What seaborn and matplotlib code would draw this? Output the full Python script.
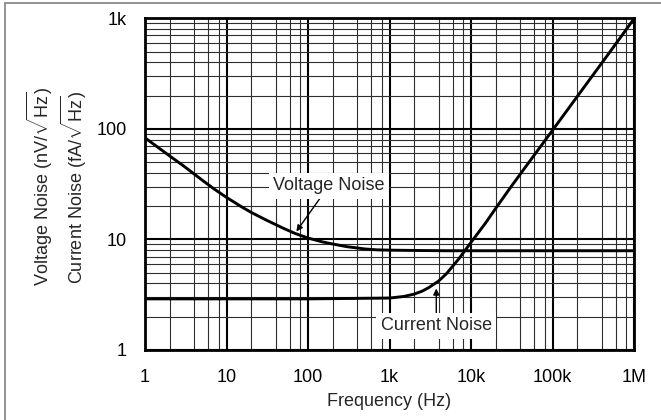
import numpy as np
import pandas as pd
import matplotlib
matplotlib.use('Agg')
from matplotlib import pyplot as plt
from matplotlib.ticker import LogLocator, FixedLocator, NullFormatter
from matplotlib.patches import Rectangle
import seaborn as sns

# values
volt_freq = [1, 2, 3, 5, 7, 10, 15, 20, 30, 50, 70, 100, 150, 200, 300, 500, 700,
             1e3, 2e3, 5e3, 1e4, 1e5, 1e6]
volt_vals = [83, 57, 46, 34.5, 28.7, 24, 19.9, 17.6, 15.1, 12.6, 11.3, 10.3, 9.5, 9.1, 8.6,
             8.2, 8.05, 8.0, 7.95, 7.9, 7.9, 7.9, 7.9]

cur_freq = [1, 10, 100, 1e3, 1.5e3, 2e3, 2.5e3, 3e3, 4e3, 5e3, 7e3, 1e4, 1.5e4, 2e4,
            3e4, 5e4, 1e5, 2e5, 5e5, 1e6]
cur_vals = [2.9, 2.9, 2.9, 2.95, 3.05, 3.2, 3.4, 3.65, 4.2, 4.9, 6.6, 9.4, 14, 19,
            29, 48.5, 97, 195, 490, 990]

x_ticks = [1, 10, 100, 1e3, 1e4, 1e5, 1e6]
x_labels = ['1', '10', '100', '1k', '10k', '100k', '1M']
y_ticks = [1, 10, 100, 1e3]
y_labels = ['1', '10', '100', '1k']

sns.set_style('white')
plt.rcParams['font.family'] = ['Liberation Sans', 'DejaVu Sans']
plt.rcParams['mathtext.fontset'] = 'custom'
plt.rcParams['mathtext.rm'] = 'Liberation Sans'
plt.rcParams['mathtext.it'] = 'Liberation Sans:italic'

fs = 13

fig = plt.figure(figsize=(6.61, 4.2), dpi=100)
ax = fig.add_axes([145 / 661, 1 - 350 / 420, 489 / 661, (350 - 18.3) / 420])

volt = pd.DataFrame({'Frequency': volt_freq, 'Noise': volt_vals})
cur = pd.DataFrame({'Frequency': cur_freq, 'Noise': cur_vals})
sns.lineplot(data=volt, x='Frequency', y='Noise', color='black', lw=2.1, ax=ax, zorder=5)
sns.lineplot(data=cur, x='Frequency', y='Noise', color='black', lw=2.1, ax=ax, zorder=5)

ax.set_xscale('log')
ax.set_yscale('log')
ax.set_xlim(1, 1e6)
ax.set_ylim(1, 1000)

ax.xaxis.set_major_locator(FixedLocator(x_ticks))
ax.yaxis.set_major_locator(FixedLocator(y_ticks))
ax.set_xticklabels(x_labels)
ax.set_yticklabels(y_labels)
ax.xaxis.set_minor_locator(LogLocator(base=10, subs=[2, 4, 6, 8], numticks=20))
ax.yaxis.set_minor_locator(LogLocator(base=10, subs=np.arange(2, 10), numticks=20))
ax.xaxis.set_minor_formatter(NullFormatter())
ax.yaxis.set_minor_formatter(NullFormatter())

ax.grid(which='major', color='black', lw=1.5)
ax.grid(which='minor', color='#2e2e2e', lw=0.8)
ax.set_axisbelow(True)
ax.tick_params(which='both', length=0, labelsize=fs, colors='black')
ax.tick_params(axis='x', pad=14)
ax.tick_params(axis='y', pad=13)
for s in ax.spines.values():
    s.set_color('black')
    s.set_linewidth(2)
    s.set_visible(True)

ax.set_xlabel('Frequency (Hz)', fontsize=fs, labelpad=5)
ax.set_ylabel('')
fig.text(40 / 661, 1 - 186 / 420, r'Voltage Noise (nV/$\sqrt{\mathrm{Hz}}$)',
         rotation=90, ha='center', va='center', fontsize=fs)
fig.text(74 / 661, 1 - 187 / 420, r'Current Noise (fA/$\sqrt{\mathrm{Hz}}$)',
         rotation=90, ha='center', va='center', fontsize=fs)

box = dict(boxstyle='square,pad=0.25', fc='white', ec='none')
ax.annotate('Voltage Noise', xy=(72, 11.8), xytext=(180, 30.5),
            ha='center', va='center', fontsize=fs, bbox=box, zorder=6,
            arrowprops=dict(arrowstyle='-|>', color='black', lw=1,
                            mutation_scale=9, shrinkA=0, shrinkB=0))
ax.annotate('Current Noise', xy=(3750, 3.6), xytext=(3750, 1.65),
            ha='center', va='center', fontsize=fs, bbox=box, zorder=6,
            arrowprops=dict(arrowstyle='-|>', color='black', lw=1,
                            mutation_scale=9, shrinkA=0, shrinkB=0))

fig.add_artist(Rectangle((5 / 661, -0.05), 1.1, 1.05 - 2.5 / 420, transform=fig.transFigure,
                         fill=False, ec='#8a8a8a', lw=1.3))

fig.savefig('out.png', dpi=100)
